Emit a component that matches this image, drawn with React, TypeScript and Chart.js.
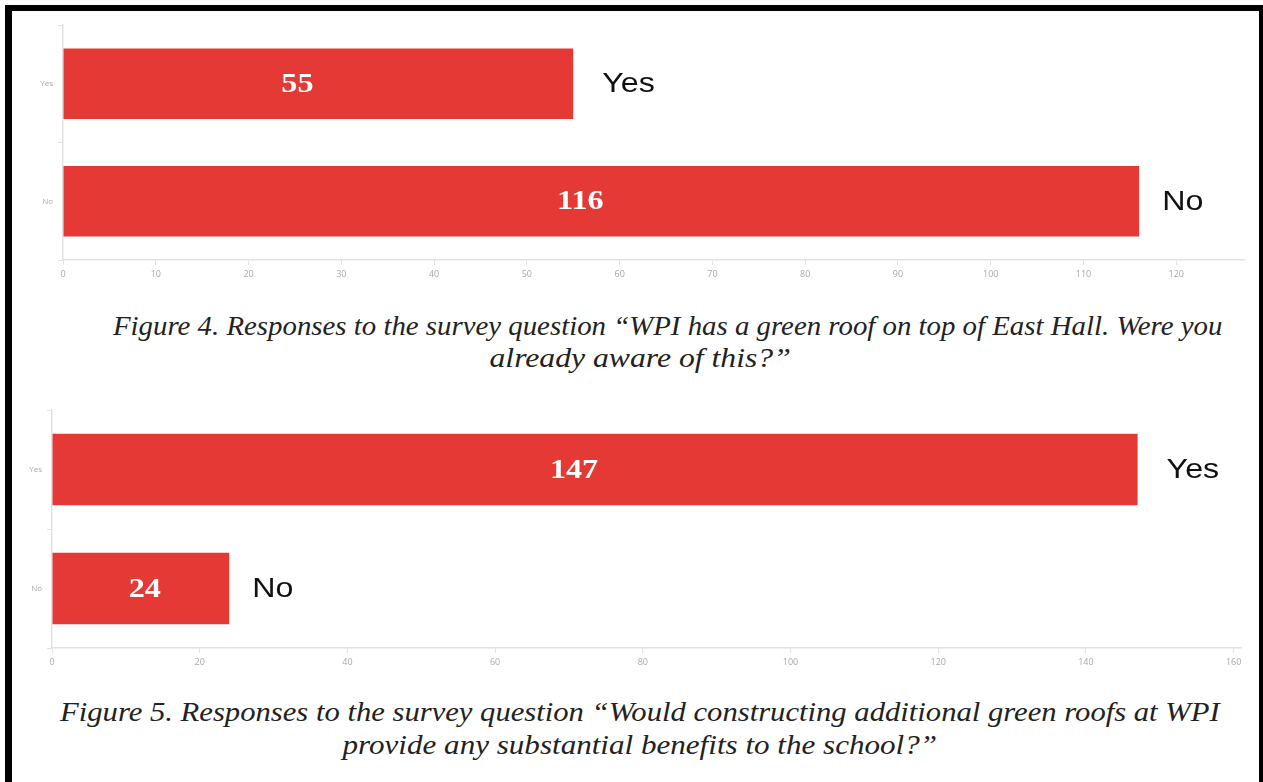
import React, { useEffect, useLayoutEffect, useRef } from "react";
import { Chart, registerables } from "chart.js";

Chart.register(...registerables);

const categories = ["Yes", "No"];
const fig4Values = [55, 116];
const fig5Values = [147, 24];
const fig4AxisMax = 127.3;
const fig4Step = 10;
const fig5AxisMax = 161;
const fig5Step = 20;

const fig4Caption = [
  "Figure 4. Responses to the survey question \u201cWPI has a green roof on top of East Hall. Were you",
  "already aware of this?\u201d",
];
const fig5Caption = [
  "Figure 5. Responses to the survey question \u201cWould constructing additional green roofs at WPI",
  "provide any substantial benefits to the school?\u201d",
];

const BAR_COLOR = "#e53935";
const AXIS_COLOR = "#e2e2e2";
const TEXT_STRETCH = 1.15;

type Cfg = {
  values: number[];
  max: number;
  step: number;
  padTop: number;
  padRight: number;
  yWidth: number;
  xHeight: number;
  height: number;
};

const labelPlugin = {
  id: "barLabels",
  afterDatasetsDraw(chart: any) {
    const ctx = chart.ctx;
    const meta = chart.getDatasetMeta(0);
    const data = chart.data.datasets[0].data;
    meta.data.forEach((bar: any, i: number) => {
      const left = Math.min(bar.x, bar.base);
      const right = Math.max(bar.x, bar.base);
      const w = right - left;
      const cx = (left + right) / 2 + (w > 300 ? -21 : 4);
      ctx.save();
      ctx.translate(cx, bar.y + 1);
      ctx.scale(TEXT_STRETCH, 1);
      ctx.fillStyle = "#ffffff";
      ctx.font = "bold 28px 'Liberation Serif', 'Times New Roman', serif";
      ctx.textAlign = "center";
      ctx.textBaseline = "middle";
      ctx.fillText(String(data[i]), 0, 0);
      ctx.restore();

      const label = String(chart.data.labels[i]);
      const gap = label === "Yes" ? 29 : 23;
      ctx.save();
      ctx.translate(right + gap, bar.y + 1);
      ctx.scale(TEXT_STRETCH, 1);
      ctx.fillStyle = "#111111";
      ctx.font = "28px 'Liberation Sans', Arial, sans-serif";
      ctx.textAlign = "left";
      ctx.textBaseline = "middle";
      ctx.fillText(label, 0, 0);
      ctx.restore();
    });
  },
};

function BarChart({ cfg }: { cfg: Cfg }) {
  const ref = useRef<HTMLCanvasElement | null>(null);
  useEffect(() => {
    if (!ref.current) return;
    const chart = new Chart(ref.current, {
      type: "bar",
      data: {
        labels: categories,
        datasets: [
          {
            data: cfg.values,
            backgroundColor: BAR_COLOR,
            borderWidth: 0,
            categoryPercentage: 0.6,
            barPercentage: 1,
          },
        ],
      },
      options: {
        indexAxis: "y",
        animation: false,
        responsive: false,
        maintainAspectRatio: false,
        layout: { padding: { top: cfg.padTop, right: cfg.padRight, left: 0, bottom: 0 } },
        plugins: { legend: { display: false }, tooltip: { enabled: false } },
        scales: {
          x: {
            min: 0,
            max: cfg.max,
            ticks: {
              stepSize: cfg.step,
              color: "#a8a8a8",
              font: { size: 9, family: "'Open Sans', sans-serif" },
              padding: 4,
              maxRotation: 0,
              autoSkip: false,
            },
            grid: { drawOnChartArea: false, drawTicks: true, tickLength: 5, color: AXIS_COLOR },
            border: { display: true, color: AXIS_COLOR, width: 1.5 },
            afterBuildTicks: (scale: any) => {
              const t: any[] = [];
              for (let v = 0; v <= cfg.max; v += cfg.step) t.push({ value: v });
              scale.ticks = t;
            },
            afterFit: (scale: any) => {
              scale.height = cfg.xHeight;
            },
          },
          y: {
            ticks: {
              color: "#a8a8a8",
              font: { size: 8, family: "'Open Sans', sans-serif" },
              padding: 5,
            },
            grid: { drawOnChartArea: false, drawTicks: true, tickLength: 5, color: AXIS_COLOR, offset: true },
            border: { display: true, color: AXIS_COLOR, width: 1.5 },
            afterFit: (scale: any) => {
              scale.width = cfg.yWidth;
            },
          },
        },
      },
      plugins: [labelPlugin],
    } as any);
    return () => chart.destroy();
  }, [cfg]);
  return <canvas ref={ref} width={1245} height={cfg.height} style={{ display: "block" }} />;
}

const CFG4: Cfg = {
  values: fig4Values,
  max: fig4AxisMax,
  step: fig4Step,
  padTop: 13,
  padRight: 13,
  yWidth: 51,
  xHeight: 32,
  height: 280,
};
const CFG5: Cfg = {
  values: fig5Values,
  max: fig5AxisMax,
  step: fig5Step,
  padTop: 15,
  padRight: 16,
  yWidth: 40,
  xHeight: 37,
  height: 290,
};

function Caption({ text, cx, cy, width }: { text: string; cx: number; cy: number; width: number }) {
  const ref = useRef<HTMLDivElement | null>(null);
  useLayoutEffect(() => {
    const el = ref.current;
    if (!el) return;
    el.style.transform = "none";
    const natural = el.offsetWidth;
    const s = width / natural;
    el.style.left = cx - natural / 2 + "px";
    el.style.transform = `scaleX(${s})`;
  }, [text, cx, width]);
  return (
    <div
      ref={ref}
      style={{
        position: "absolute",
        top: cy - 14,
        left: cx,
        fontFamily: "'Liberation Serif', 'Times New Roman', serif",
        fontStyle: "italic",
        fontSize: 28,
        color: "#222",
        whiteSpace: "nowrap",
        lineHeight: "28px",
        transformOrigin: "50% 50%",
      }}
    >
      {text}
    </div>
  );
}

export default function App() {
  return (
    <div style={{ position: "fixed", left: 0, top: 0, width: 1263, height: 782, overflow: "hidden", background: "#fff" }}>
      <div
        style={{
          position: "absolute",
          left: 5,
          top: 5,
          width: 1260,
          height: 820,
          boxSizing: "border-box",
          borderTop: "6px solid #000",
          borderLeft: "7px solid #000",
          borderRight: "6px solid #000",
        }}
      />
      <div style={{ position: "absolute", left: 12, top: 12 }}>
        <BarChart cfg={CFG4} />
      </div>
      <div style={{ position: "absolute", left: 12, top: 395 }}>
        <BarChart cfg={CFG5} />
      </div>
      <Caption text={fig4Caption[0]} cx={667} cy={326} width={1109} />
      <Caption text={fig4Caption[1]} cx={640} cy={358} width={301} />
      <Caption text={fig5Caption[0]} cx={640} cy={712} width={1160} />
      <Caption text={fig5Caption[1]} cx={640} cy={745} width={595} />
    </div>
  );
}
